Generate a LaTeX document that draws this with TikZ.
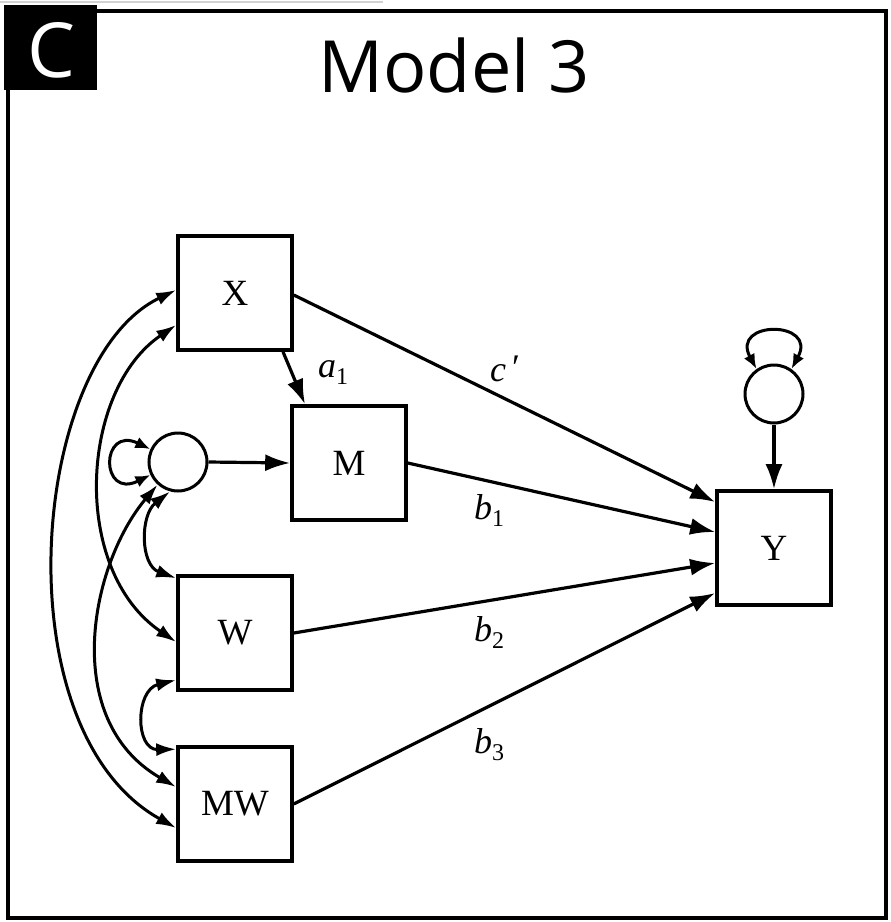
\documentclass[tikz,border=0pt]{standalone}
\usepackage{fontspec}
\setmainfont{Liberation Serif}
\newfontfamily\titlefont{Open Sans}
\usetikzlibrary{arrows.meta}
\newcommand{\subn}[1]{\raisebox{-7pt}{\fontsize{24}{26}\selectfont\upshape #1}}
\begin{document}
\begin{tikzpicture}[x=1pt,y=-1pt,
  var/.style={draw,line width=3.6pt,minimum size=114pt,inner sep=0pt,font=\fontsize{37}{40}\selectfont},
  dist/.style={draw,circle,line width=3pt,minimum size=58pt,inner sep=0pt},
  path/.style={line width=3.2pt,-{Latex[length=25pt,width=17pt]}},
  cov/.style={line width=3pt,{Latex[length=20pt,width=13pt]}-{Latex[length=20pt,width=13pt]}},
  loopcov/.style={line width=3pt,{Latex[length=15pt,width=12pt]}-{Latex[length=15pt,width=12pt]}},
  lbl/.style={font=\fontsize{36}{40}\selectfont\itshape,inner sep=0pt}]
\useasboundingbox (0,0) rectangle (891,922);
% frame
\draw[gray!35,line width=2pt] (0,1.5) -- (383,1.5);
\draw[line width=3.4pt] (8,11) rectangle (886,918);
\fill (4,5) rectangle (97,90);
\node[white,font=\titlefont\fontsize{76}{80}\selectfont,inner sep=0pt] (clab) at (51,50) {C};
\node[font=\titlefont\fontsize{72}{76}\selectfont,inner sep=0pt] (title) at (454,65) {Model 3};
% variables
\node[var] (X) at (235,293) {X};
\node[var] (M) at (349,463) {M};
\node[var] (W) at (235,633) {W};
\node[var] (MW) at (235,804) {MW};
\node[var] (Y) at (774,548) {Y};
\node[dist] (d1) at (178,462) {};
\node[dist] (d2) at (774,394) {};
% regression paths
\draw[path] ([xshift=48pt]X.south) -- ([xshift=-44pt]M.north);
\draw[path] ([yshift=-2pt]X.east) -- ([yshift=46pt]Y.west);
\draw[path] (M.east) -- ([yshift=16pt]Y.west);
\draw[path] (W.east) -- ([yshift=-15pt]Y.west);
\draw[path] (MW.east) -- ([yshift=-45pt]Y.west);
\draw[path] (d1.east) -- (M.west);
\draw[path] (d2.south) -- (Y.north);
% labels
\node[lbl] (la1) at (333,373) {a\subn{1}};
\node[lbl] (lc) at (505,369) {c\,\raisebox{2pt}{\upshape\char"2032}};
\node[lbl] (lb1) at (489,511) {b\subn{1}};
\node[lbl] (lb2) at (489,633) {b\subn{2}};
\node[lbl] (lb3) at (489,745) {b\subn{3}};
% covariances
\draw[cov] ([yshift=3pt]X.west) .. controls (30,360) and (0,730) .. ([yshift=-24pt]MW.west);
\draw[cov] ([yshift=-32pt]X.west) .. controls (80,390) and (70,570) .. ([yshift=-9pt]W.west);
\draw[cov] (d1.228) .. controls (90,565) and (60,720) .. ([yshift=17pt]MW.west);
\draw[cov] (d1.255) .. controls (140,515) and (140,565) .. ([yshift=-4pt]W.north west);
\draw[cov] ([yshift=-47pt]W.west) .. controls (135,690) and (135,750) .. ([yshift=-4pt]MW.north west);
% variances
\draw[loopcov] (d1.155) .. controls (100,425) and (100,500) .. (d1.205);
\draw[loopcov] (d2.125) .. controls (730,320) and (818,320) .. (d2.55);
\end{tikzpicture}
\end{document}
